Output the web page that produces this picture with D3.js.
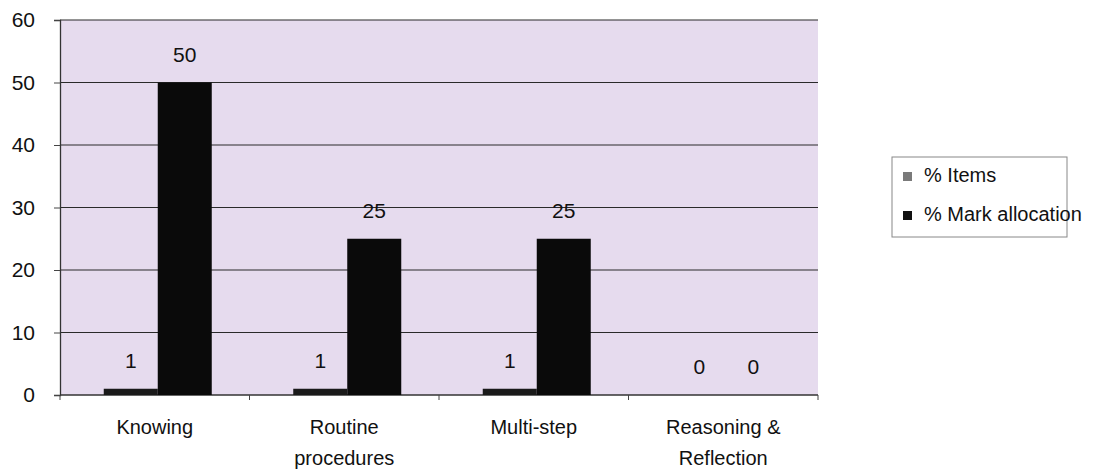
<!DOCTYPE html>
<html>
<head>
<meta charset="utf-8">
<script src="https://cdn.jsdelivr.net/npm/d3@7"></script>
<style>
  body { margin: 0; background: #fff; }
  text { font-family: "Liberation Sans", Arial, sans-serif; fill: #111; }
</style>
</head>
<body>
<div id="chart-area"></div>
<script>
// data
var categories = [["Knowing"], ["Routine", "procedures"], ["Multi-step"], ["Reasoning &", "Reflection"]];
var seriesNames = ["% Items", "% Mark allocation"];
var items = [1, 1, 1, 0];
var markAllocation = [50, 25, 25, 0];
var yTicks = [0, 10, 20, 30, 40, 50, 60];

var margin = { left: 60, right: 302, top: 20, bottom: 79 };
var width = 1120 - margin.left - margin.right,
    height = 474 - margin.top - margin.bottom;

var svg = d3.select("#chart-area")
    .append("svg")
        .attr("width", 1120)
        .attr("height", 474);

var g = svg.append("g")
    .attr("transform", "translate(" + margin.left + ", " + margin.top + ")");

// plot background
g.append("rect")
    .attr("width", width)
    .attr("height", height)
    .attr("fill", "#e6dbee");

var keys = categories.map(function(d){ return d.join(" "); });

// X Scale
var x = d3.scaleBand()
    .domain(keys)
    .range([0, width]);

var x1 = d3.scaleBand()
    .domain(seriesNames)
    .range([0, 108])
    .padding(0);

// Y Scale
var y = d3.scaleLinear()
    .domain([0, 60])
    .range([height, 0]);

// gridlines
g.selectAll(".grid")
    .data(yTicks.slice(1))
    .enter().append("line")
        .attr("x1", 0)
        .attr("x2", width)
        .attr("y1", function(d){ return y(d); })
        .attr("y2", function(d){ return y(d); })
        .attr("stroke", "#2a2a2a")
        .attr("stroke-width", 1.2);

// Y Axis
var yAxisGroup = g.append("g")
    .call(d3.axisLeft(y).tickValues(yTicks).tickSize(6).tickPadding(19));
yAxisGroup.select(".domain").attr("stroke", "#333").attr("stroke-width", 1.3);
yAxisGroup.selectAll(".tick line").attr("stroke", "#444");
yAxisGroup.selectAll("text")
    .attr("font-size", "21px")
    .attr("fill", "#111");

// X Axis
var xAxisGroup = g.append("g")
    .attr("transform", "translate(0," + height + ")");
xAxisGroup.append("line")
    .attr("x1", 0).attr("x2", width)
    .attr("stroke", "#333").attr("stroke-width", 1.3);
xAxisGroup.selectAll(".xtick")
    .data(d3.range(keys.length + 1))
    .enter().append("line")
        .attr("x1", function(i){ return i * x.step(); })
        .attr("x2", function(i){ return i * x.step(); })
        .attr("y1", 0).attr("y2", 5)
        .attr("stroke", "#444");

var labels = xAxisGroup.selectAll(".xlabel")
    .data(categories)
    .enter().append("text")
        .attr("text-anchor", "middle")
        .attr("font-size", "20px")
        .attr("transform", function(d){
            return "translate(" + (x(d.join(" ")) + x.bandwidth() / 2) + ",0)";
        });
labels.selectAll("tspan")
    .data(function(d){ return d; })
    .enter().append("tspan")
        .attr("x", 0)
        .attr("y", function(d, i){ return 39 + i * 31; })
        .text(function(d){ return d; });

// bars
var rows = keys.map(function(k, i){
    return [
        { cat: k, s: seriesNames[0], v: items[i] },
        { cat: k, s: seriesNames[1], v: markAllocation[i] }
    ];
});
var flat = [].concat.apply([], rows);
var offset = (x.bandwidth() - 108) / 2 + 3;

g.selectAll(".bar")
    .data(flat)
    .enter().append("rect")
        .attr("x", function(d){ return x(d.cat) + offset + x1(d.s); })
        .attr("y", function(d){ return y(d.v); })
        .attr("width", x1.bandwidth())
        .attr("height", function(d){ return height - y(d.v); })
        .attr("fill", function(d){ return d.s === seriesNames[0] ? "#1a1a1a" : "#0a0a0a"; });

// value labels
g.selectAll(".val")
    .data(flat)
    .enter().append("text")
        .attr("text-anchor", "middle")
        .attr("font-size", "21px")
        .attr("x", function(d){ return x(d.cat) + offset + x1(d.s) + x1.bandwidth() / 2; })
        .attr("y", function(d){ return y(d.v) - 21; })
        .text(function(d){ return d.v; });

// legend
var legend = svg.append("g")
    .attr("transform", "translate(892,157)");
legend.append("rect")
    .attr("width", 175)
    .attr("height", 80)
    .attr("fill", "#fff")
    .attr("stroke", "#888");
var legendColors = ["#7a7a7a", "#111"];
seriesNames.forEach(function(name, i){
    var row = legend.append("g")
        .attr("transform", "translate(11," + (19 + i * 39) + ")");
    row.append("rect")
        .attr("x", 0).attr("y", -4)
        .attr("width", 9).attr("height", 9)
        .attr("fill", legendColors[i]);
    row.append("text")
        .attr("x", 21)
        .attr("y", 0)
        .attr("dy", "0.32em")
        .attr("font-size", "20px")
        .text(name);
});
</script>
</body>
</html>
